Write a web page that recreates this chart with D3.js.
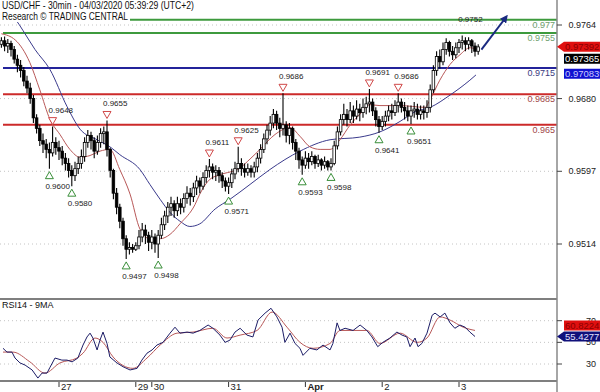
<!DOCTYPE html>
<html>
<head>
<meta charset="utf-8">
<script src="https://cdnjs.cloudflare.com/ajax/libs/d3/7.8.5/d3.min.js"></script>
<style>
body { margin: 0; background: #fff; }
svg { display: block; font-family: "Liberation Sans", Arial, sans-serif; }
</style>
</head>
<body>
<script>
// USD/CHF 30min chart (drawn with hourly candles), RSI panel below

// time axis: bar index where each day starts
var tickIdx = [18, 42, 47, 71, 95, 119, 143];
var tickLabels = ["27", "29", "30", "31", "Apr", "2", "3"];

// price axis ticks and rsi ticks
var priceTicks = [0.9764, 0.9680, 0.9597, 0.9514];
var rsiTicks = [70, 50, 30];

// support / resistance levels
var levelValues = [0.977, 0.9755, 0.9715, 0.9685, 0.965];
var levelLabels = ["0.977", "0.9755", "0.9715", "0.9685", "0.965"];

// candles (open of a bar = close of the bar before)
var open0 = 0.9742;
var closes = [
  .9746,.9740,.9743,.9736,.9725,.9718,.9712,.9700,.9692,.9680,
  .9658,.9646,.9632,.9628,.9622,.9618,.9630,.9624,.9620,.9612,
  .9606,.9598,.9592,.9600,.9606,.9614,.9630,.9638,.9632,.9620,
  .9630,.9640,.9642,.9622,.9598,.9572,.9556,.9540,.9520,.9508,
  .9510,.9508,.9512,.9522,.9530,.9524,.9516,.9522,.9514,.9524,
  .9536,.9546,.9556,.9560,.9552,.9560,.9556,.9566,.9572,.9568,
  .9578,.9586,.9580,.9590,.9598,.9602,.9596,.9598,.9592,.9586,
  .9580,.9584,.9594,.9600,.9606,.9600,.9596,.9600,.9596,.9602,
  .9612,.9622,.9634,.9644,.9652,.9662,.9652,.9646,.9650,.9638,
  .9646,.9630,.9620,.9610,.9604,.9612,.9608,.9614,.9606,.9610,
  .9604,.9608,.9602,.9606,.9626,.9642,.9656,.9662,.9656,.9666,
  .9660,.9668,.9664,.9670,.9674,.9676,.9666,.9656,.9648,.9654,
  .9660,.9666,.9664,.9672,.9676,.9670,.9666,.9660,.9666,.9668,
  .9662,.9666,.9664,.9670,.9690,.9712,.9728,.9722,.9736,.9744,
  .9734,.9730,.9738,.9744,.9746,.9742,.9746,.9740,.9734,.9739
];
var highs = [
  .9750,.9751,.9748,.9746,.9740,.9730,.9724,.9716,.9706,.9698,
  .9684,.9662,.9650,.9640,.9634,.9630,.9648,.9636,.9632,.9626,
  .9618,.9612,.9604,.9608,.9614,.9622,.9636,.9644,.9642,.9636,
  .9638,.9646,.9648,.9655,.9624,.9600,.9578,.9560,.9544,.9524,
  .9516,.9514,.9516,.9530,.9538,.9536,.9528,.9530,.9526,.9530,
  .9544,.9552,.9562,.9568,.9564,.9568,.9566,.9572,.9580,.9578,
  .9584,.9592,.9590,.9596,.9604,.9611,.9606,.9604,.9602,.9596,
  .9590,.9590,.9600,.9608,.9625,.9612,.9606,.9606,.9604,.9608,
  .9618,.9628,.9640,.9650,.9660,.9668,.9666,.9658,.9686,.9654,
  .9652,.9648,.9634,.9624,.9614,.9620,.9618,.9620,.9616,.9616,
  .9612,.9614,.9610,.9612,.9632,.9648,.9662,.9674,.9668,.9676,
  .9672,.9678,.9674,.9680,.9682,.9691,.9680,.9670,.9660,.9660,
  .9666,.9672,.9674,.9678,.9686,.9680,.9676,.9672,.9672,.9676,
  .9674,.9672,.9672,.9678,.9696,.9718,.9734,.9736,.9744,.9749,
  .9746,.9740,.9744,.9748,.9752,.9750,.9750,.9748,.9744,.9742
];
var lows = [
  .9738,.9734,.9732,.9728,.9720,.9710,.9704,.9694,.9686,.9674,
  .9652,.9640,.9626,.9618,.9612,.9600,.9614,.9616,.9610,.9604,
  .9598,.9590,.9580,.9586,.9594,.9600,.9608,.9624,.9622,.9612,
  .9616,.9624,.9628,.9614,.9590,.9565,.9548,.9532,.9512,.9497,
  .9502,.9504,.9506,.9508,.9516,.9514,.9506,.9508,.9504,.9498,
  .9520,.9530,.9538,.9546,.9544,.9546,.9548,.9550,.9560,.9558,
  .9562,.9570,.9572,.9576,.9584,.9590,.9588,.9586,.9584,.9578,
  .9574,.9571,.9578,.9588,.9596,.9592,.9590,.9592,.9590,.9590,
  .9596,.9606,.9618,.9628,.9638,.9646,.9644,.9636,.9638,.9630,
  .9628,.9622,.9610,.9600,.9593,.9600,.9600,.9604,.9600,.9602,
  .9598,.9600,.9598,.9598,.9604,.9622,.9638,.9650,.9648,.9652,
  .9652,.9656,.9654,.9658,.9662,.9664,.9660,.9648,.9641,.9644,
  .9648,.9654,.9656,.9660,.9664,.9664,.9656,.9654,.9651,.9658,
  .9656,.9656,.9656,.9658,.9664,.9686,.9706,.9714,.9718,.9730,
  .9728,.9724,.9726,.9732,.9736,.9734,.9736,.9732,.9728,.9730
];

// moving averages: bar index / price
var maFastT = [0,4.3,8.9,12,15.2,18.3,21.4,24.6,27.7,30.8,33.9,37,40.2,43.3,46.4,49.6,52.7,55.8,60.5,62,65.2,68.3,74.6,77.7,80.8,85.5,90.2,93.3,96.4,99.6,102.7,105.8,109,112,115.2,118.3,124.6,132.4,134,137,140.2,143.3,146.4,149];
var maFastV = [.9754,.9747,.9721,.9690,.9656,.9639,.9622,.9613,.9615,.9620,.9622,.9599,.9571,.9531,.9520,.9520,.9525,.9537,.9559,.9571,.9588,.9593,.9601,.9611,.9622,.9639,.9647,.9637,.9625,.9622,.9622,.9633,.9650,.9662,.9673,.9672,.9672,.9670,.9679,.9701,.9719,.9730,.9738,.9736];
var maSlowT = [0,4.5,6.7,10.5,15.2,20.5,24.6,29.9,33.9,37,43.3,46.4,49.6,52.7,55.8,58.9,62,66.8,71.4,77.7,83.9,93.3,102.7,112,118.3,124.6,129.3,134,140.2,146.4,148.3];
var maSlowV = [.9785,.9770,.9758,.9736,.9713,.9671,.9645,.9633,.9625,.9616,.9599,.9582,.9565,.9550,.9540,.9534,.9537,.9554,.9565,.9582,.9599,.9620,.9633,.9636,.9642,.9654,.9665,.9670,.9684,.9701,.9707];

// pivots: bar index, price, H = high, L = low, T = label only
var pivotIdx   = [15, 16, 22, 33, 39, 49, 65, 71, 74, 88, 94, 103, 115, 118, 124, 128, 144];
var pivotPrice = [.9600,.9648,.9580,.9655,.9497,.9498,.9611,.9571,.9625,.9686,.9593,.9598,.9691,.9641,.9686,.9651,.9752];
var pivotKind  = ["L","H","L","H","L","L","H","L","H","H","L","L","H","L","H","L","T"];

// trend arrow: from / to (bar index, price)
var arrowFrom = [150, 0.9736];
var arrowTo = [157.5, 0.9772];

// right side value tags
var priceTagValues = [0.97392, 0.97365, 0.970839];
var rsiTagValues = [60.8224, 55.4277];

// RSI14 and its 9MA: bar index / value
var rsiT = [0.5,1.75,3.3,4.25,5.8,7.4,9.6,11.4,12.7,14.25,15.2,16.75,18.9,20.5,22.1,23.9,25.5,26.75,27.7,28.6,29.9,30.8,31.75,33,33.9,36.1,38,40.2,42.4,43.9,45.5,47.1,48.6,50.5,52.7,54.25,55.8,58,59.9,62,64.6,66.1,68.3,69.9,71.4,73,74.6,76.75,78.6,80.2,82.4,84.25,86.1,87.7,88.6,90.2,91.75,93.3,94.25,96.4,98.6,100.5,102.7,103.6,104.9,105.8,107.4,109.9,112.1,114.2,115.8,117.6,119.2,121.4,123.6,125.2,126.7,127.7,129.25,130.2,131.4,133,134.6,135.5,137.1,138.6,140.2,141.7,143.3,144.9,146.4,148];
var rsiV = [44.5,41,41,35.5,31,29,24.5,17,21.6,21.6,27,35.5,33.6,33.6,32,35.5,47.5,55,58.5,54,43,52,59.5,49,36.5,31,27.5,24.5,26,33.6,40,43,47.5,50,58.5,64,58.5,59.5,58.5,61,66,63,56.7,50,52,59.5,63,56.7,55,70.6,77,81.5,73.5,64,50,58.5,49,44.5,38,44.5,43,47.5,43,49,68,61,63,61,66,61,55,46,50,54,59.5,56.7,55,46,54,46,49,58.5,75,77,73.5,77,68,63,66,64,59.5,55.4];
var rsiMaT = [0.5,3.6,8.9,13.6,18.3,23.6,25.5,29.25,31.75,34.9,41.1,45.5,49.6,54.9,59.9,66.1,70.5,74.6,79.9,84.6,89.25,93.3,97.4,102.7,105.8,114.2,118.3,124.6,129.9,133,137.1,140.2,144.3,148];
var rsiMaV = [41,41,32,21.6,31,35.5,40,54,50,36.5,26,35.5,47.5,58.5,59.5,63,54,56.7,61,78,64,50,44.5,49,61,61,49,58.5,50,54,73.5,70.6,64,61];

var W = 600, H = 392;
var axisX = 557;
var mainBottom = 299, rsiBottom = 381;

var svg = d3.select("body").append("svg").attr("width", W).attr("height", H);
svg.append("rect").attr("width", W).attr("height", H).attr("fill", "#fff");

var x = d3.scaleLinear().domain([0, 149]).range([1.4, 478.2]);
var y = d3.scaleLinear().domain([0.9514, 0.9764]).range([244, 25]);
var yr = d3.scaleLinear().domain([30, 70]).range([364, 320.7]);
var f4 = d3.format(".4f");

var defs = svg.append("defs");
defs.append("clipPath").attr("id", "clipMain")
  .append("rect").attr("x", 0).attr("y", 0).attr("width", axisX).attr("height", mainBottom);
defs.append("clipPath").attr("id", "clipRsi")
  .append("rect").attr("x", 0).attr("y", mainBottom).attr("width", axisX).attr("height", rsiBottom - mainBottom);
defs.append("marker").attr("id", "head").attr("viewBox", "0 0 10 10")
  .attr("refX", 5).attr("refY", 5).attr("markerWidth", 4).attr("markerHeight", 4)
  .attr("orient", "auto")
  .append("path").attr("d", "M0,0 L10,5 L0,10 Z").attr("fill", "#1a2a80");

var main = svg.append("g").attr("clip-path", "url(#clipMain)");

// dotted grid at the price ticks
main.selectAll(".grid").data(priceTicks).enter().append("line")
  .attr("x1", 0).attr("x2", axisX)
  .attr("y1", d => y(d)).attr("y2", d => y(d))
  .attr("stroke", "#c4c4c4").attr("stroke-dasharray", "1,3");

// level lines
var levelColors = ["#3d9a3d", "#3d9a3d", "#23239a", "#cc2a2a", "#cc2a2a"];
var levelTextColors = ["#6f9f6f", "#6f9f6f", "#3a3a80", "#a04848", "#a04848"];
main.selectAll(".lvl").data(levelValues).enter().append("line")
  .attr("x1", 3).attr("x2", axisX)
  .attr("y1", d => y(d)).attr("y2", d => y(d))
  .attr("stroke", (d, i) => levelColors[i]).attr("stroke-width", 2);

// moving averages
var line = d3.line().x(d => x(d[0])).y(d => y(d[1])).curve(d3.curveMonotoneX);
main.append("path").datum(d3.zip(maSlowT, maSlowV)).attr("d", line)
  .attr("fill", "none").attr("stroke", "#3a3a8c").attr("stroke-width", 1);
main.append("path").datum(d3.zip(maFastT, maFastV)).attr("d", line)
  .attr("fill", "none").attr("stroke", "#b85858").attr("stroke-width", 1);

// candles
var candles = closes.map(function(c, i) {
  return { i: i, o: i == 0 ? open0 : closes[i - 1], c: c, h: highs[i], l: lows[i] };
});
var cg = main.selectAll(".candle").data(candles).enter().append("g");
cg.append("line")
  .attr("x1", d => x(d.i)).attr("x2", d => x(d.i))
  .attr("y1", d => y(d.h)).attr("y2", d => y(d.l))
  .attr("stroke", "#000").attr("stroke-width", 1.1);
cg.append("rect")
  .attr("x", d => x(d.i) - 1.3).attr("width", 2.6)
  .attr("y", d => y(Math.max(d.o, d.c)))
  .attr("height", d => Math.max(1, Math.abs(y(d.o) - y(d.c))))
  .attr("fill", d => d.c > d.o ? "#fff" : "#000")
  .attr("stroke", "#000").attr("stroke-width", 0.8);

// level labels, right aligned at the axis
svg.selectAll(".lvlText").data(levelLabels).enter().append("text")
  .attr("x", axisX - 2).attr("y", (d, i) => y(levelValues[i]) + 8)
  .attr("text-anchor", "end").attr("font-size", "9px")
  .attr("fill", (d, i) => levelTextColors[i]).text(d => d);

// pivot triangles and labels
var pivots = pivotIdx.map((d, i) => ({ i: d, p: pivotPrice[i], k: pivotKind[i] }));
main.selectAll(".tri").data(pivots.filter(d => d.k != "T")).enter().append("path")
  .attr("d", function(d) {
    var cx = x(d.i), py = y(d.p);
    if (d.k == "H") return "M" + cx + "," + (py - 2) + "L" + (cx + 4) + "," + (py - 9) + "L" + (cx - 4) + "," + (py - 9) + "Z";
    return "M" + cx + "," + (py + 3) + "L" + (cx + 4) + "," + (py + 10) + "L" + (cx - 4) + "," + (py + 10) + "Z";
  })
  .attr("fill", "#fff")
  .attr("stroke", d => d.k == "H" ? "#d04848" : "#3a8f3a").attr("stroke-width", 1);
main.selectAll(".pvText").data(pivots).enter().append("text")
  .attr("x", d => x(d.i) - 4)
  .attr("y", d => d.k == "L" ? y(d.p) + 20 : y(d.p) - 14)
  .attr("font-size", "8px").attr("fill", "#222")
  .text(d => f4(d.p));

// trend arrow
svg.append("line")
  .attr("x1", x(arrowFrom[0])).attr("y1", y(arrowFrom[1]))
  .attr("x2", x(arrowTo[0])).attr("y2", y(arrowTo[1]))
  .attr("stroke", "#1a2a80").attr("stroke-width", 2)
  .attr("marker-end", "url(#head)");

// title with white background
var titles = ["USD/CHF - 30min - 04/03/2020 05:39:29 (UTC+2)", "Research \u00A9 TRADING CENTRAL"];
var titleW = [192, 126];
titles.forEach(function(t, i) {
  svg.append("rect").attr("x", 0).attr("y", i * 11).attr("width", titleW[i] + 4).attr("height", 11).attr("fill", "#fff");
  svg.append("text").attr("x", 2).attr("y", 9 + i * 10.5)
    .attr("font-size", "10.5px").attr("fill", "#111")
    .attr("textLength", titleW[i]).attr("lengthAdjust", "spacingAndGlyphs")
    .text(t);
});

// RSI panel
var rsiG = svg.append("g").attr("clip-path", "url(#clipRsi)");
rsiG.selectAll(".rgrid").data(rsiTicks).enter().append("line")
  .attr("x1", 0).attr("x2", axisX)
  .attr("y1", d => yr(d)).attr("y2", d => yr(d))
  .attr("stroke", "#c4c4c4").attr("stroke-dasharray", "1,3");
var rline = d3.line().x(d => x(d[0])).y(d => yr(d[1]));
rsiG.append("path").datum(d3.zip(rsiMaT, rsiMaV)).attr("d", rline.curve(d3.curveMonotoneX))
  .attr("fill", "none").attr("stroke", "#b85858").attr("stroke-width", 1);
rsiG.append("path").datum(d3.zip(rsiT, rsiV)).attr("d", d3.line().x(d => x(d[0])).y(d => yr(d[1])))
  .attr("fill", "none").attr("stroke", "#1c1c66").attr("stroke-width", 1);
svg.append("text").attr("x", 2).attr("y", 308).attr("font-size", "9px").attr("fill", "#111").text("RSI14 - 9MA");

// frame lines
svg.append("line").attr("x1", 0).attr("x2", axisX).attr("y1", mainBottom).attr("y2", mainBottom)
  .attr("stroke", "#555").attr("stroke-width", 1.5);
svg.append("line").attr("x1", 0).attr("x2", axisX).attr("y1", rsiBottom).attr("y2", rsiBottom)
  .attr("stroke", "#555").attr("stroke-width", 1.5);
svg.append("line").attr("x1", axisX).attr("x2", axisX).attr("y1", 0).attr("y2", H)
  .attr("stroke", "#888").attr("stroke-width", 1.5);

// right axis ticks and labels
svg.selectAll(".pt").data(priceTicks).enter().append("line")
  .attr("x1", axisX).attr("x2", axisX + 5).attr("y1", d => y(d)).attr("y2", d => y(d)).attr("stroke", "#444");
svg.selectAll(".ptl").data(priceTicks).enter().append("text")
  .attr("x", 596).attr("y", d => y(d) + 3).attr("text-anchor", "end")
  .attr("font-size", "9px").attr("fill", "#222").text(d => f4(d));
svg.selectAll(".rt").data(rsiTicks).enter().append("line")
  .attr("x1", axisX).attr("x2", axisX + 5).attr("y1", d => yr(d)).attr("y2", d => yr(d)).attr("stroke", "#444");
svg.selectAll(".rtl").data(rsiTicks).enter().append("text")
  .attr("x", 596).attr("y", d => yr(d) + 3).attr("text-anchor", "end")
  .attr("font-size", "9px").attr("fill", "#222").text(d => d);

// value tags on the right axis
function drawTag(yc, label, fill, textFill, arrow) {
  var g = svg.append("g");
  var p = arrow
    ? "M" + axisX + "," + yc + "L" + (axisX + 7) + "," + (yc - 5) + "L600," + (yc - 5) + "L600," + (yc + 5) + "L" + (axisX + 7) + "," + (yc + 5) + "Z"
    : "M" + (axisX + 7) + "," + (yc - 5) + "L600," + (yc - 5) + "L600," + (yc + 5) + "L" + (axisX + 7) + "," + (yc + 5) + "Z";
  g.append("path").attr("d", p).attr("fill", fill);
  g.append("text").attr("x", axisX + 8).attr("y", yc + 3.5).attr("font-size", "9.5px")
    .attr("fill", textFill).text(label);
}
// the arrow tag keeps its place, the others move away from it
var yLast = y(priceTagValues[0]);
drawTag(Math.max(y(priceTagValues[1]), yLast + 12), priceTagValues[1].toFixed(5), "#000", "#fff", false);
drawTag(Math.max(y(priceTagValues[2]), yLast + 24), String(priceTagValues[2]), "#1010d0", "#c8c8ff", false);
drawTag(yLast, priceTagValues[0].toFixed(5), "#e01010", "#8a0000", true);
var yRsi = yr(rsiTagValues[1]);
drawTag(Math.min(yr(rsiTagValues[0]), yRsi - 11), rsiTagValues[0].toFixed(4), "#e01010", "#8a0000", false);
drawTag(yRsi, rsiTagValues[1].toFixed(4), "#10107a", "#e0e0ff", true);

// time axis
svg.selectAll(".tt").data(tickIdx).enter().append("line")
  .attr("x1", d => x(d)).attr("x2", d => x(d)).attr("y1", rsiBottom + 1).attr("y2", rsiBottom + 6)
  .attr("stroke", "#333");
svg.selectAll(".ttl").data(tickLabels).enter().append("text")
  .attr("x", (d, i) => x(tickIdx[i]) + 2).attr("y", 390)
  .attr("font-size", "9.5px").attr("fill", "#222")
  .attr("font-weight", d => d == "Apr" ? "bold" : "normal")
  .text(d => d);
</script>
</body>
</html>
